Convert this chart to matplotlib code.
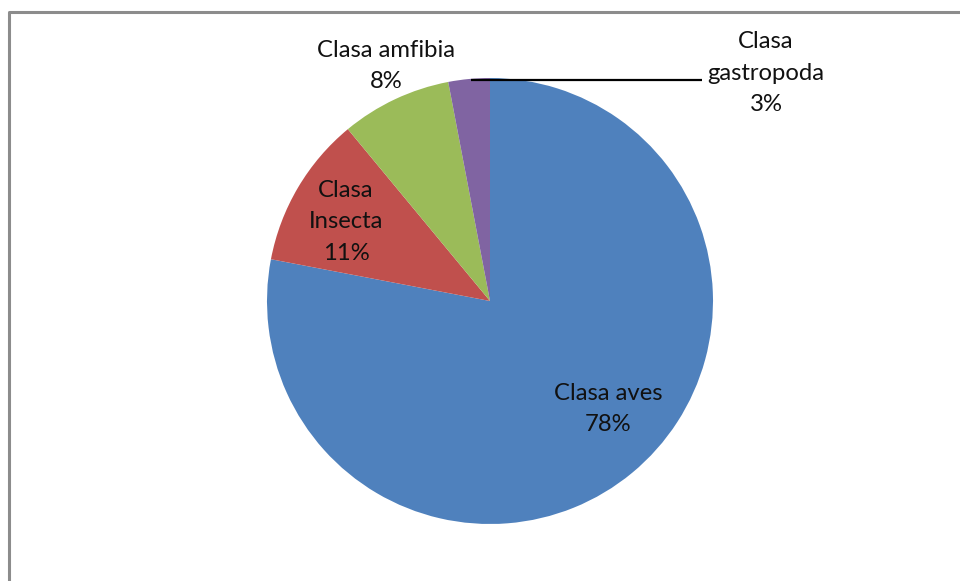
import matplotlib
matplotlib.use("Agg")
import matplotlib.pyplot as plt

categories = ["Clasa aves", "Clasa Insecta", "Clasa amfibia", "Clasa gastropoda"]
values = [78, 11, 8, 3]
label_texts = ["Clasa aves\n78%", "Clasa\nInsecta\n11%", "Clasa amfibia\n8%", "Clasa\ngastropoda\n3%"]
colors = ["#4F81BD", "#C0504D", "#9BBB59", "#8064A2"]

W, H = 960, 581
fig = plt.figure(figsize=(W / 100, H / 100), dpi=100)
ax = fig.add_axes([0, 0, 1, 1])

cx, cy, r = 490, H - 301, 223
ax.pie(values, colors=colors, startangle=90, counterclock=False,
       center=(cx, cy), radius=r, frame=True,
       wedgeprops=dict(linewidth=0))
ax.set_xlim(0, W)
ax.set_ylim(0, H)
ax.set_aspect("equal")
ax.axis("off")

# label positions (pixel coordinates, y from top)
label_pos = [(608, 409), (346, 222), (386, 66), (766, 73)]
for txt, (x, y) in zip(label_texts, label_pos):
    ax.text(x, H - y, txt, ha="center", va="center", fontsize=17.2,
            family="Lato", color="#111111", linespacing=1.62)

# leader line for gastropoda
ax.plot([471, 702], [H - 79.5, H - 79.5], color="black", lw=1.6, solid_capstyle="butt")

# chart frame
ax.plot([9, 9, W], [0, H - 12, H - 12], color="#8c8c8c", lw=2.2, clip_on=False)

fig.savefig("out.png", dpi=100)
